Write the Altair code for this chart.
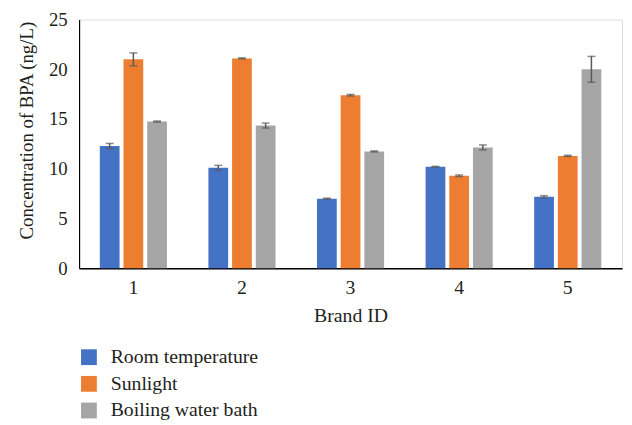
import altair as alt
import pandas as pd

brands = ["1", "2", "3", "4", "5"]
conditions = ["Room temperature", "Sunlight", "Boiling water bath"]
room = [12.3, 10.1, 7.0, 10.2, 7.2]
sun = [21.0, 21.1, 17.4, 9.3, 11.3]
boil = [14.75, 14.35, 11.75, 12.15, 20.0]
room_err = [0.25, 0.25, 0.05, 0.05, 0.1]
sun_err = [0.65, 0.05, 0.08, 0.08, 0.05]
boil_err = [0.05, 0.25, 0.05, 0.25, 1.3]
colors = ["#4472C4", "#ED7D31", "#A5A5A5"]

rows = []
for cond, vals, errs in zip(conditions, [room, sun, boil], [room_err, sun_err, boil_err]):
    for b, v, e in zip(brands, vals, errs):
        rows.append({"Brand": b, "Condition": cond, "Value": v, "Lo": v - e, "Hi": v + e})
df = pd.DataFrame(rows)

FONT = "Liberation Serif"
TXT = "#231F20"

x = alt.X("Brand:N", title="Brand ID",
          scale=alt.Scale(paddingInner=0.382, paddingOuter=0.191),
          axis=alt.Axis(labelAngle=0, ticks=False, labelPadding=9, titlePadding=9,
                        domainColor="#000000", domainWidth=1.5,
                        labelFont=FONT, titleFont=FONT, labelFontSize=20, titleFontSize=20,
                        labelColor=TXT, titleColor=TXT, titleFontWeight="normal"))
xo = alt.XOffset("Condition:N", sort=conditions,
                 scale=alt.Scale(paddingInner=1/6, paddingOuter=0))

base = alt.Chart(df)

bars = base.mark_bar().encode(
    x=x,
    xOffset=xo,
    y=alt.Y("Value:Q", title="Concentration of BPA (ng/L)",
            scale=alt.Scale(domain=[0, 25], nice=False),
            axis=alt.Axis(values=[0, 5, 10, 15, 20, 25], grid=False, ticks=False,
                          labelPadding=12, titlePadding=12, titleY=112,
                          domainColor="#000000", domainWidth=1.2,
                          labelFont=FONT, titleFont=FONT, labelFontSize=19, titleFontSize=19,
                          labelColor=TXT, titleColor=TXT, titleFontWeight="normal")),
    color=alt.Color("Condition:N", sort=conditions,
                    scale=alt.Scale(domain=conditions, range=colors),
                    legend=alt.Legend(title=None, orient="none", legendX=0, legendY=332,
                                      symbolType="square", symbolSize=256, symbolStrokeWidth=0,
                                      labelFont=FONT, labelFontSize=20, labelColor=TXT,
                                      labelOffset=12, rowPadding=7)),
)

rules = base.mark_rule(color="#595959", strokeWidth=1.5).encode(
    x=x, xOffset=xo, y="Lo:Q", y2="Hi:Q")
cap_lo = base.mark_tick(color="#595959", thickness=1.5, size=8).encode(
    x=x, xOffset=xo, y="Lo:Q")
cap_hi = base.mark_tick(color="#595959", thickness=1.5, size=8).encode(
    x=x, xOffset=xo, y="Hi:Q")

chart = alt.layer(bars, rules, cap_lo, cap_hi).properties(
    width=550, height=252,
    autosize=alt.AutoSizeParams(type="none"),
    padding={"left": 72, "top": 9, "right": 2, "bottom": 158},
).configure_view(stroke=None).configure(background="white")

chart.save("out.html", embed_options={"renderer": "svg", "actions": False})
